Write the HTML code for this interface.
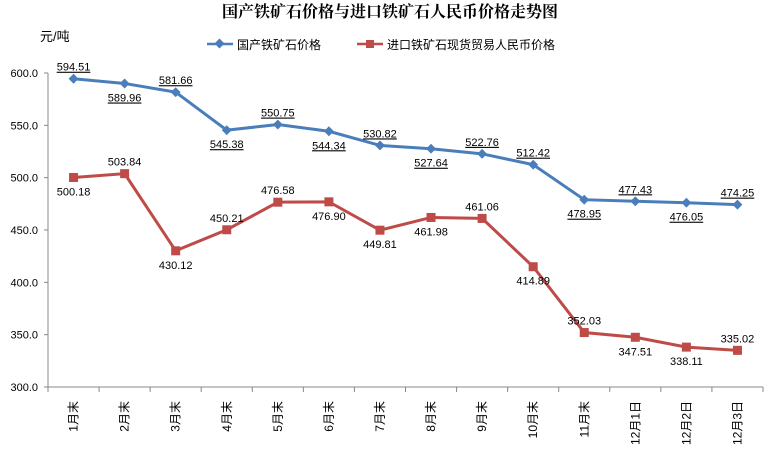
<!DOCTYPE html>
<html><head><meta charset="utf-8"><style>
body{margin:0;background:#fff}
svg text{font-family:"Liberation Sans","Noto Sans CJK SC",sans-serif}
</style></head><body>
<svg id="c" width="779" height="450" xmlns="http://www.w3.org/2000/svg">
<text x="390" y="17" text-anchor="middle" font-size="16" font-weight="bold" fill="#000" style="font-family:'Noto Serif CJK SC',serif">国产铁矿石价格与进口铁矿石人民币价格走势图</text>
<text x="40" y="41" font-size="13" fill="#000">元/吨</text>
<g>
<g><line x1="207" y1="44" x2="233" y2="44" stroke="#4a7ebb" stroke-width="2.5"/><rect x="216" y="40" width="7" height="7" fill="#4a7ebb" transform="rotate(45 219.5 43.5)"/><text x="237" y="49" font-size="12">国产铁矿石价格</text></g>
<g><line x1="357" y1="44" x2="383" y2="44" stroke="#be4b48" stroke-width="2.5"/><rect x="366" y="40" width="8" height="8" fill="#be4b48"/><text x="387" y="49" font-size="12">进口铁矿石现货贸易人民币价格</text></g>
</g>
<g id="axes"></g><g id="marks"></g>
</svg>
<script>
const categories=["1月末","2月末","3月末","4月末","5月末","6月末","7月末","8月末","9月末","10月末","11月末","12月1日","12月2日","12月3日"];
const domestic=[594.51,589.96,581.66,545.38,550.75,544.34,530.82,527.64,522.76,512.42,478.95,477.43,476.05,474.25];
const imported=[500.18,503.84,430.12,450.21,476.58,476.90,449.81,461.98,461.06,414.89,352.03,347.51,338.11,335.02];
const yTicks=[300,350,400,450,500,550,600];
const domPos=[-1,1,-1,1,-1,1,-1,1,-1,-1,1,-1,1,-1];
const impPos=[1,-1,1,-1,-1,1,1,1,-1,1,-1,1,1,-1];
const NS="http://www.w3.org/2000/svg";
const x0=48,x1=763,y0=387,y1=73;
const step=(x1-x0)/categories.length;
const X=i=>x0+step*(i+0.5);
const Y=v=>y0-(v-300)/300*(y0-y1);
function el(t,a,p){const e=document.createElementNS(NS,t);for(const k in a)e.setAttribute(k,a[k]);p.appendChild(e);return e;}
const ax=document.getElementById('axes'),mk=document.getElementById('marks');
let l=el('line',{x1:x0,y1:y1,x2:x0,y2:y0,stroke:'#888'},ax);


l=el('line',{x1:x0,y1:y0,x2:x1,y2:y0,stroke:'#888'},ax);


yTicks.forEach(v=>{
 el('line',{x1:x0-4,y1:Y(v),x2:x0,y2:Y(v),stroke:'#888'},ax);
 const t=el('text',{x:x0-10,y:Y(v)+4,'text-anchor':'end','font-size':11},ax);
 t.textContent=v.toFixed(1);
 
 
});
categories.forEach((c,i)=>{
 const tx=x0+step*(i+1);
 el('line',{x1:tx,y1:y0,x2:tx,y2:y0+5,stroke:'#888'},ax);
 if(i==0)el('line',{x1:x0,y1:y0,x2:x0,y2:y0+5,stroke:'#888'},ax);
 const t=el('text',{x:0,y:0,'text-anchor':'end','font-size':12,transform:`translate(${X(i)+4},401) rotate(-90)`},ax);
 t.textContent=c;
 
 
});
function series(vals,col,shape,pos,name){
 const p=el('polyline',{points:vals.map((v,i)=>X(i)+','+Y(v)).join(' '),fill:'none',stroke:col,'stroke-width':3},mk);
 
 
 vals.forEach((v,i)=>{
  let m;
  if(shape=='d')m=el('rect',{x:X(i)-3.5,y:Y(v)-3.5,width:7,height:7,fill:col,transform:`rotate(45 ${X(i)} ${Y(v)})`},mk);
  else m=el('rect',{x:X(i)-4.5,y:Y(v)-4.5,width:9,height:9,fill:col},mk);
  
  
  const t=el('text',{x:X(i),y:pos[i]<0?Y(v)-8:Y(v)+18,'text-anchor':'middle','font-size':11,'text-decoration':shape=='d'?'underline':'none'},mk);
  t.textContent=v.toFixed(2);
  
  
 });
}
series(domestic,'#4a7ebb','d',domPos,'domestic');
series(imported,'#be4b48','s',impPos,'import');
</script>
</body></html>
